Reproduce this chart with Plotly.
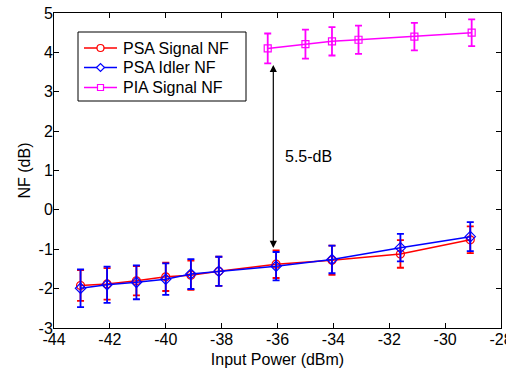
import plotly.graph_objects as go

psa_x = [-43.05, -42.1, -41.05, -40.0, -39.1, -38.1, -36.05, -34.05, -31.6, -29.1]
psa_signal = [-1.92, -1.88, -1.80, -1.70, -1.66, -1.56, -1.38, -1.28, -1.12, -0.76]
psa_signal_err = [0.39, 0.40, 0.37, 0.36, 0.37, 0.37, 0.35, 0.37, 0.35, 0.34]
psa_idler = [-1.99, -1.90, -1.84, -1.76, -1.63, -1.56, -1.43, -1.26, -0.96, -0.68]
psa_idler_err = [0.48, 0.46, 0.43, 0.40, 0.38, 0.37, 0.36, 0.35, 0.35, 0.37]
pia_x = [-36.35, -35.0, -34.05, -33.1, -31.1, -29.05]
pia_signal = [4.10, 4.21, 4.28, 4.32, 4.40, 4.50]
pia_signal_err = [0.38, 0.37, 0.36, 0.36, 0.35, 0.34]

series_names = ["PSA Signal NF", "PSA Idler NF", "PIA Signal NF"]
series_colors = ["#ff0000", "#0000ff", "#ff00ff"]
series_symbols = ["circle", "diamond", "square"]

x_ticks = [-44, -42, -40, -38, -36, -34, -32, -30, -28]
y_ticks = [-3, -2, -1, 0, 1, 2, 3, 4, 5]

font = "Liberation Sans, Arial, sans-serif"
fs = 16

W, H = 506, 370
ML, MR, MT, MB = 54, 5, 13, 42
PW, PH = W - ML - MR, H - MT - MB


def px(x):
    return (x - ML) / PW


def py(y):
    return (H - MB - y) / PH


fig = go.Figure()
series = [
    (psa_x, psa_signal, psa_signal_err, 8),
    (psa_x, psa_idler, psa_idler_err, 8),
    (pia_x, pia_signal, pia_signal_err, 7),
]
for (xs, ys, errs, msize), name, col, sym in zip(series, series_names, series_colors, series_symbols):
    fig.add_trace(go.Scatter(
        x=xs, y=ys, name=name, mode="lines+markers", showlegend=False,
        line=dict(color=col, width=1.5),
        marker=dict(symbol=sym + "-open", size=msize, color=col, line=dict(width=1.2)),
        error_y=dict(type="data", array=errs, color=col, thickness=1.8, width=3.5),
    ))

fig.add_annotation(
    x=-36.15, y=-0.97, ax=-36.15, ay=3.72, xref="x", yref="y", axref="x", ayref="y",
    text="", showarrow=True, arrowhead=2, startarrowhead=2, arrowside="end+start",
    arrowsize=1.2, arrowwidth=1.2, arrowcolor="black", standoff=0, startstandoff=0,
)
fig.add_annotation(
    x=-35.8, y=1.35, xref="x", yref="y", text="5.5-dB", showarrow=False,
    xanchor="left", font=dict(family=font, size=fs, color="black"),
)

# legend box (drawn to match the compact MATLAB-style legend)
shapes = [dict(type="rect", xref="paper", yref="paper", x0=px(78), x1=px(246), y0=py(32), y1=py(101),
               line=dict(color="black", width=1), fillcolor="white", layer="above")]
row_y = [48, 67.5, 87.5]
for ry, name, col, sym in zip(row_y, series_names, series_colors, series_symbols):
    shapes.append(dict(type="line", xref="paper", yref="paper", x0=px(84), x1=px(117), y0=py(ry), y1=py(ry),
                       line=dict(color=col, width=1.5), layer="above"))
    cx = 100.5
    if sym == "circle":
        r = 3.5
        shapes.append(dict(type="circle", xref="paper", yref="paper", x0=px(cx - r), x1=px(cx + r),
                           y0=py(ry + r), y1=py(ry - r), line=dict(color=col, width=1.2),
                           fillcolor="white", layer="above"))
    elif sym == "diamond":
        r = 4
        path = "M {} {} L {} {} L {} {} L {} {} Z".format(
            px(cx - r), py(ry), px(cx), py(ry - r), px(cx + r), py(ry), px(cx), py(ry + r))
        shapes.append(dict(type="path", xref="paper", yref="paper", path=path,
                           line=dict(color=col, width=1.2), fillcolor="white", layer="above"))
    else:
        r = 3
        shapes.append(dict(type="rect", xref="paper", yref="paper", x0=px(cx - r), x1=px(cx + r),
                           y0=py(ry + r), y1=py(ry - r), line=dict(color=col, width=1.2),
                           fillcolor="white", layer="above"))
    fig.add_annotation(x=px(121), y=py(ry), xref="paper", yref="paper", text=name, showarrow=False,
                       xanchor="left", yanchor="middle", font=dict(family=font, size=fs, color="black"))

axis_common = dict(
    showgrid=False, zeroline=False, showline=True, linecolor="black", linewidth=1,
    mirror="ticks", ticks="inside", ticklen=5, tickcolor="black",
    tickfont=dict(family=font, size=fs, color="black"), ticklabeloverflow="allow",
)
fig.update_xaxes(range=[-44, -28], tickvals=x_ticks, ticktext=[str(v) for v in x_ticks],
                 ticklabelstandoff=-3,
                 title=dict(text="Input Power (dBm)", font=dict(family=font, size=fs, color="black"), standoff=6),
                 **axis_common)
fig.update_yaxes(range=[-3, 5], tickvals=y_ticks, ticktext=[str(v) for v in y_ticks],
                 ticklabelstandoff=-3,
                 title=dict(text="NF (dB)", font=dict(family=font, size=fs, color="black"), standoff=3),
                 **axis_common)

fig.update_layout(
    width=W, height=H,
    margin=dict(l=ML, r=MR, t=MT, b=MB, autoexpand=False),
    paper_bgcolor="white", plot_bgcolor="white",
    font=dict(family=font, size=fs, color="black"),
    showlegend=False,
    shapes=shapes,
)

# remove the default 8px page margin so the figure fills the 506x370 window
fig.write_html("out.html", config={"displayModeBar": False},
               post_script="document.body.style.margin='0px';")
